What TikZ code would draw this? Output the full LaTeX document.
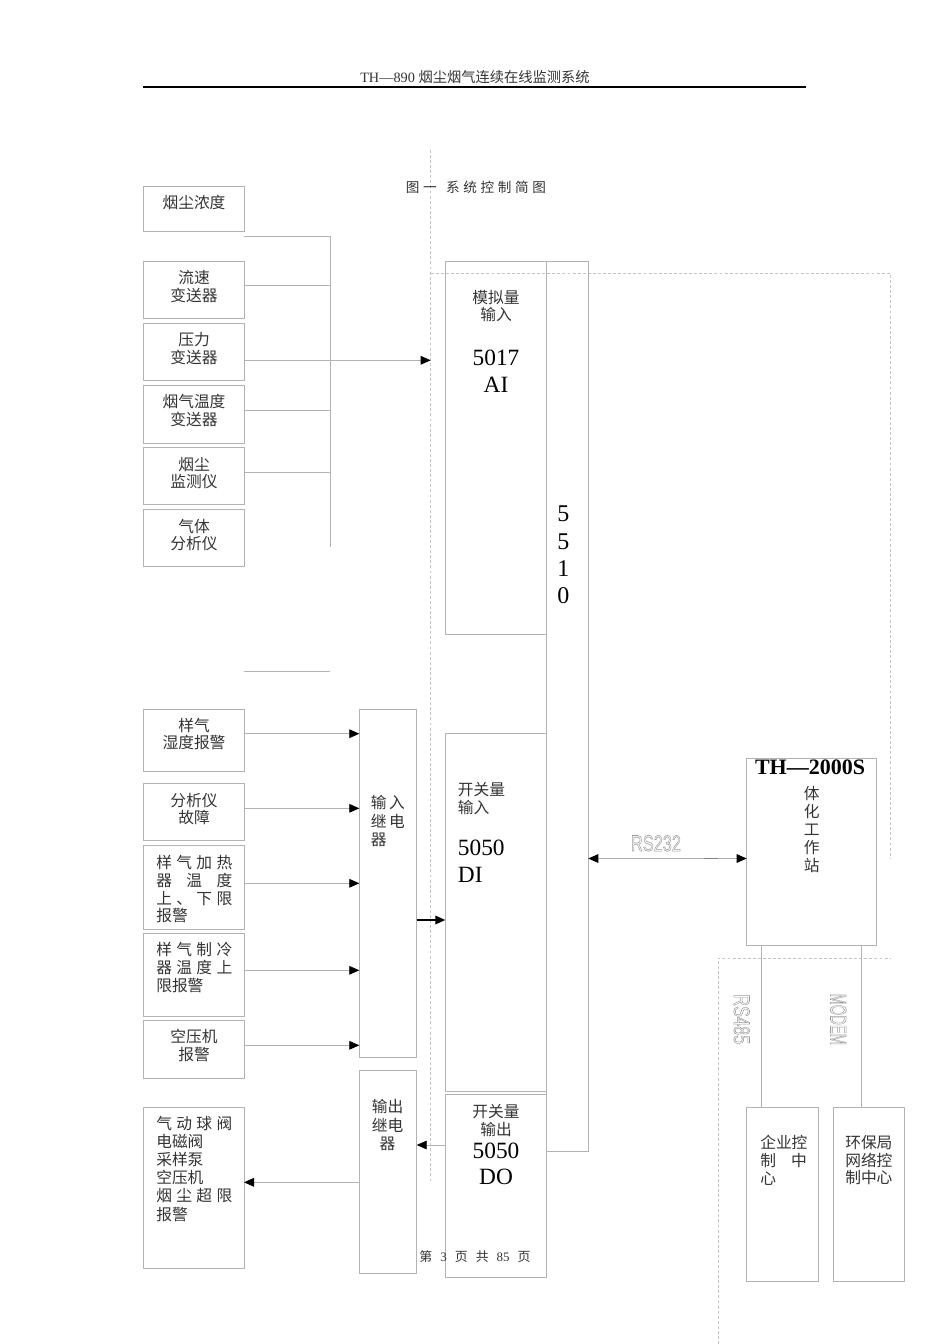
\documentclass[tikz,border=0pt]{standalone}
\usepackage{fontspec}
\setmainfont{Liberation Serif}
\newfontfamily\cjk{Noto Sans CJK SC}
\newfontfamily\cjkls[LetterSpace=27]{Noto Sans CJK SC}
\newfontfamily\sanslbl{Liberation Sans}
\usetikzlibrary{arrows.meta,fit}
\definecolor{linegray}{HTML}{B3B3B3}
\definecolor{dashgray}{HTML}{C4C4C4}
\definecolor{txtgray}{HTML}{333333}
\definecolor{lblgray}{HTML}{9A9A9A}
\newcommand\hollowtext[1]{\special{pdf:literal direct 1 Tr 0.45 w}#1\special{pdf:literal direct 0 Tr}}
\begin{document}
\begin{tikzpicture}[x=0.75pt,y=-0.75pt,
  box/.style={rectangle,draw=linegray,line width=0.6pt,inner sep=0pt,outer sep=0pt},
  wire/.style={draw=linegray,line width=0.6pt},
  tipk/.tip={Triangle[length=7.5pt,width=6.5pt,color=black]},
  arr/.style={wire,-tipk},
  dashline/.style={draw=dashgray,line width=0.5pt,dash pattern=on 2.2pt off 1.6pt},
  ct/.style={inner sep=0pt,text=txtgray,font=\cjk\fontsize{11.8}{13.2}\selectfont,align=center},
  bignum/.style={inner sep=0pt,text=black,font=\fontsize{17.5}{20.2}\selectfont,align=center},
  lbl/.style={inner sep=0pt,text=lblgray,font=\sanslbl\fontsize{17}{18}\selectfont}
]
\useasboundingbox (0,0) rectangle (950,1344);

% header
\node[inner sep=0pt,text=txtgray,font=\fontsize{10.7}{12}\selectfont] (hdr) at (475,77) {TH—890 {\cjk 烟尘烟气连续在线监测系统}};
\coordinate (hrL) at (143,87);
\coordinate (hrR) at (806,87);
\draw[line width=1.3pt] (hrL) -- (hrR);

% dashed frames
\draw[dashline] (430.7,150) -- (430.7,1182);
\draw[dashline] (430.7,273.3) -- (890,273.3) -- (890,858);
\draw[dashline] (718.3,1344) -- (718.3,958) -- (890,958);

% title
\node[inner sep=0pt,text=txtgray,font=\cjkls\fontsize{10.2}{11}\selectfont] (title) at (476,187.7) {图一\hspace{7pt}系统控制简图};

% upper left sensor boxes
\node[box,fit={(143,186.7)(244,231.3)}] (a1) {};
\node[box,fit={(143,261)(244,318.7)}] (a2) {};
\node[box,fit={(143,323.3)(244,380)}] (a3) {};
\node[box,fit={(143,385.3)(244,443)}] (a4) {};
\node[box,fit={(143,447.3)(244,504.3)}] (a5) {};
\node[box,fit={(143,509.3)(244,566.7)}] (a6) {};
\node[ct] (ta1) at (194,202.7) {烟尘浓度};
\node[ct] (ta2) at (194,286.4) {流速\\变送器};
\node[ct] (ta3) at (194,348.5) {压力\\变送器};
\node[ct] (ta4) at (194,410.4) {烟气温度\\变送器};
\node[ct] (ta5) at (194,472.9) {烟尘\\监测仪};
\node[ct] (ta6) at (194,535) {气体\\分析仪};

% bus
\coordinate (busT) at (330.3,236.3);
\coordinate (busB) at (330.3,546.7);
\coordinate (aiIn) at (430.7,360.3);
\draw[wire] (a1.east |- busT) -- (busT) -- (busB);
\draw[wire] (a2.east |- 0,285.3) -- (busT |- 0,285.3);
\draw[arr] (a3.east |- aiIn) -- (aiIn);
\draw[wire] (a4.east |- 0,410) -- (busT |- 0,410);
\draw[wire] (a5.east |- 0,472.3) -- (busT |- 0,472.3);
\coordinate (strayR) at (330.3,671);
\draw[wire] (a6.east |- strayR) -- (strayR);

% modules
\node[box,fit={(445.3,261.7)(546.5,634)}] (ai) {};
\node[box,fit={(546.5,261.7)(588.3,1151.7)}] (cpu) {};
\node[box,fit={(445.3,733.7)(546.5,1091)}] (di) {};
\node[box,fit={(445.3,1094.3)(546.7,1277.3)}] (dobox) {};
\node[ct] (tai) at (496,306) {模拟量\\输入};
\node[bignum] (nai) at (496,370.8) {5017\\AI};
\node[bignum,font=\fontsize{18}{20.6}\selectfont] (ncpu) at (563.3,555) {5\\5\\1\\0};
\node[ct,align=left,anchor=west] (tdi) at (457.7,798.5) {开关量\\输入};
\node[bignum,align=left,anchor=west] (ndi) at (457.7,861) {5050\\DI};
\node[ct] (tdo) at (496,1120.8) {开关量\\输出};
\node[bignum,font=\fontsize{17.5}{19.5}\selectfont] (ndo) at (496,1163.7) {5050\\DO};

% relays
\node[box,fit={(359.3,709.3)(416.7,1057.3)}] (inr) {};
\node[box,fit={(359.3,1070)(416.7,1273.3)}] (outr) {};
\node[ct,align=left,anchor=west,font=\cjk\fontsize{11.8}{14}\selectfont] (tinr) at (370.5,821.3) {\makebox[25.5pt][s]{输\hfill 入}\\\makebox[25.5pt][s]{继\hfill 电}\\器};
\node[ct,font=\cjk\fontsize{11.8}{13.7}\selectfont] (toutr) at (387.5,1125) {输出\\继电\\器};

% lower left boxes
\node[box,fit={(143,709.3)(244,771)}] (b1) {};
\node[box,fit={(143,783.7)(244,840)}] (b2) {};
\node[box,fit={(143,845.7)(244,929.3)}] (b3) {};
\node[box,fit={(143,933.3)(244,1016.3)}] (b4) {};
\node[box,fit={(143,1020.7)(244,1078.3)}] (b5) {};
\node[box,fit={(143,1107.7)(244,1268.3)}] (b6) {};
\node[ct] (tb1) at (194,733.9) {样气\\湿度报警};
\node[ct] (tb2) at (194,808.9) {分析仪\\故障};
\node[ct,align=left,anchor=west,font=\cjk\fontsize{11.8}{13.4}\selectfont] (tb3) at (156,889.2)
  {\makebox[57pt][s]{样\hfill 气\hfill 加\hfill 热}\\\makebox[57pt][s]{器\hfill 温\hfill 度}\\\makebox[57pt][s]{上\hfill 、\hfill 下\hfill 限}\\报警};
\node[ct,align=left,anchor=west,font=\cjk\fontsize{11.8}{13.4}\selectfont] (tb4) at (156,967.2)
  {\makebox[57pt][s]{样\hfill 气\hfill 制\hfill 冷}\\\makebox[57pt][s]{器\hfill 温\hfill 度\hfill 上}\\限报警};
\node[ct] (tb5) at (194,1045.4) {空压机\\报警};
\node[ct,align=left,anchor=west,font=\cjk\fontsize{11.8}{13.6}\selectfont] (tb6) at (156,1168.7)
  {\makebox[57pt][s]{气\hfill 动\hfill 球\hfill 阀}\\电磁阀\\采样泵\\空压机\\\makebox[57pt][s]{烟\hfill 尘\hfill 超\hfill 限}\\报警};

% arrows
\draw[arr] (b1.east |- 0,733.7) -- (inr.west |- 0,733.7);
\draw[arr] (b2.east |- 0,808.3) -- (inr.west |- 0,808.3);
\draw[arr] (b3.east |- 0,883.3) -- (inr.west |- 0,883.3);
\draw[arr] (b4.east |- 0,970.3) -- (inr.west |- 0,970.3);
\draw[arr] (b5.east |- 0,1045.3) -- (inr.west |- 0,1045.3);
\draw[line width=1pt,-tipk] (inr.east |- 0,920) -- (di.west |- 0,920);
\draw[arr] (dobox.west |- 0,1145) -- (outr.east |- 0,1145);
\draw[arr] (outr.west |- 0,1182.3) -- (b6.east |- 0,1182.3);

% workstation
\node[box,fit={(746.7,758)(876.3,945)}] (th) {};
\node[inner sep=0pt,font=\bfseries\fontsize{16.5}{18}\selectfont] (thl) at (810,767.5) {TH—2000S};
\node[ct,font=\cjk\fontsize{11.8}{13.6}\selectfont] (tth) at (811.7,829.5) {体\\化\\工\\作\\站};

% RS232 link
\draw[wire,tipk-tipk] (cpu.east |- 0,858.5) -- (th.west |- 0,858.5);
\coordinate (mkL) at (704,858.5);
\coordinate (mkR) at (717.7,858.5);
\draw[draw=gray,line width=0.6pt] (mkL) -- (mkR);
\node[lbl] (l232) at (656,843.3) {\hollowtext{\scalebox{0.72}[1]{RS232}}};

% control centres
\node[box,fit={(746.7,1107.4)(818.3,1281.5)}] (e1) {};
\node[box,fit={(833.3,1107.4)(904.3,1281.5)}] (e2) {};
\draw[wire] (th.south -| 761.7,0) -- (e1.north -| 761.7,0);
\draw[wire] (th.south -| 861.7,0) -- (e2.north -| 861.7,0);
\node[ct,align=left,anchor=west] (te1) at (760,1160.3) {企业控\\\makebox[35pt][s]{制\hfill 中}\\心};
\node[ct,align=left,anchor=west] (te2) at (845,1160.3) {环保局\\网络控\\制中心};
\node[lbl,rotate=-90] (l485) at (741.7,1019.3) {\hollowtext{\scalebox{0.72}[1]{RS485}}};
\node[lbl,rotate=-90] (lmod) at (838.3,1019.3) {\hollowtext{\scalebox{0.59}[1]{MODEM}}};

% footer
\node[inner sep=0pt,text=txtgray,font=\fontsize{9.7}{11}\selectfont] (ftr) at (475,1256.7) {{\cjk 第}\hspace{6pt}3\hspace{6pt}{\cjk 页}\hspace{6pt}{\cjk 共}\hspace{6pt}85\hspace{6pt}{\cjk 页}};
\end{tikzpicture}
\end{document}
